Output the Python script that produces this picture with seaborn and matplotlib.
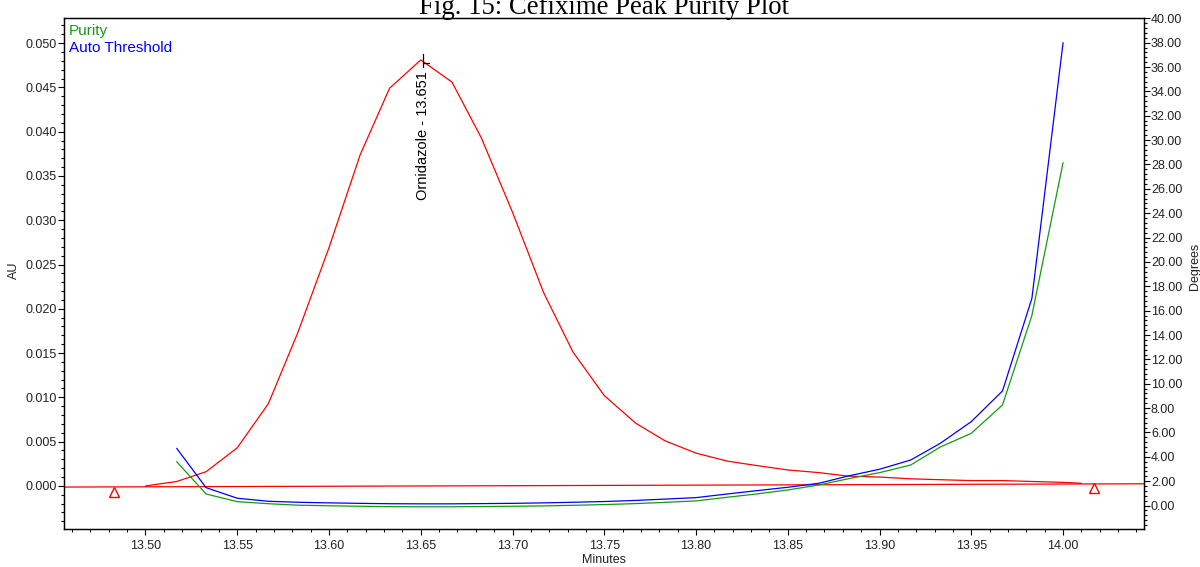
import matplotlib
matplotlib.use("Agg")
import matplotlib.pyplot as plt
from matplotlib.ticker import MultipleLocator, AutoMinorLocator, FormatStrFormatter
import seaborn as sns
import pandas as pd

# Chromatogram (AU) around the Ornidazole peak
red_time = [13.500, 13.517, 13.533, 13.550, 13.567, 13.583, 13.600, 13.617,
            13.633, 13.650, 13.667, 13.683, 13.700, 13.717, 13.733, 13.750,
            13.767, 13.783, 13.800, 13.817, 13.833, 13.850, 13.867, 13.883,
            13.900, 13.917, 13.933, 13.950, 13.967, 13.983, 14.000, 14.010]
red_au = [0.0000, 0.0005, 0.0016, 0.0043, 0.0093, 0.0173, 0.0269, 0.0374,
          0.0449, 0.0481, 0.0456, 0.0393, 0.0309, 0.0218, 0.0151, 0.0102,
          0.0071, 0.0051, 0.0037, 0.0028, 0.0023, 0.0018, 0.0015, 0.0011,
          0.0010, 0.0008, 0.0007, 0.0006, 0.0006, 0.0005, 0.0004, 0.0003]

# Baseline endpoints (AU)
base_time = [13.4556, 14.0441]
base_au = [-0.00013, 0.00024]

# Peak start / end markers
mark_time = [13.483, 14.017]
mark_au = [-0.0007, -0.00026]

# Purity and threshold angles (degrees)
ang_time = [13.517, 13.533, 13.550, 13.567, 13.583, 13.600, 13.617, 13.633,
            13.650, 13.667, 13.683, 13.700, 13.717, 13.733, 13.750, 13.767,
            13.783, 13.800, 13.817, 13.833, 13.850, 13.867, 13.883, 13.900,
            13.917, 13.933, 13.950, 13.967, 13.983, 14.000]
threshold_deg = [4.70, 1.47, 0.60, 0.35, 0.27, 0.22, 0.18, 0.15,
                 0.14, 0.14, 0.16, 0.18, 0.22, 0.27, 0.33, 0.42,
                 0.53, 0.65, 0.95, 1.22, 1.50, 1.83, 2.43, 2.98,
                 3.74, 5.10, 6.89, 9.41, 17.0, 38.0]
purity_deg = [3.60, 0.95, 0.32, 0.15, 0.03, -0.02, -0.06, -0.09,
              -0.10, -0.10, -0.08, -0.06, -0.03, 0.02, 0.08, 0.16,
              0.26, 0.38, 0.68, 0.95, 1.28, 1.69, 2.20, 2.70,
              3.33, 4.80, 5.93, 8.26, 15.6, 28.15]

peak_name = "Ornidazole"
peak_rt = 13.651
peak_top = 0.0481

RED = "#ff0000"
BLUE = "#0000ff"
GREEN = "#159a15"

sns.set_theme(style="ticks")
plt.rcParams["font.family"] = ["Liberation Sans", "DejaVu Sans"]

fig = plt.figure(figsize=(12, 5.67), dpi=100)
ax = fig.add_axes([64 / 1200, 1 - 529.3 / 567, 1080 / 1200, 511 / 567])
ax2 = ax.twinx()

chrom = pd.DataFrame({"t": red_time, "au": red_au})
base = pd.DataFrame({"t": base_time, "au": base_au})
ang = pd.DataFrame({"t": ang_time, "thr": threshold_deg, "pur": purity_deg})

sns.lineplot(data=base, x="t", y="au", ax=ax, color=RED, lw=0.9,
             estimator=None, sort=False)
sns.lineplot(data=chrom, x="t", y="au", ax=ax, color=RED, lw=0.9,
             estimator=None, sort=False)
ax.plot(mark_time, mark_au, ls="none", marker="^", ms=7.5, mfc="none",
        mec=RED, mew=1.0)

sns.lineplot(data=ang, x="t", y="pur", ax=ax2, color=GREEN, lw=0.9,
             estimator=None, sort=False)
sns.lineplot(data=ang, x="t", y="thr", ax=ax2, color=BLUE, lw=0.9,
             estimator=None, sort=False)

# Peak marker and label
ax.plot([peak_rt, peak_rt], [peak_top - 0.0008, peak_top + 0.0007],
        color="black", lw=0.9)
ax.plot([peak_rt, peak_rt + 0.0035], [peak_top - 0.0004, peak_top - 0.0004],
        color="black", lw=0.9)
ax.text(peak_rt, 0.0468, f"{peak_name} - {peak_rt:.3f}", rotation=90,
        ha="center", va="top", fontsize=10.5, color="black")

# Axis ranges and ticks
ax.set_xlim(13.4556, 14.0441)
ax.set_ylim(-0.0049, 0.0528)
ax2.set_ylim(-1.95, 40.0)

ax.xaxis.set_major_locator(MultipleLocator(0.05))
ax.xaxis.set_minor_locator(AutoMinorLocator(5))
ax.xaxis.set_major_formatter(FormatStrFormatter("%.2f"))
ax.yaxis.set_major_locator(MultipleLocator(0.005))
ax.yaxis.set_minor_locator(AutoMinorLocator(5))
ax.yaxis.set_major_formatter(FormatStrFormatter("%.3f"))
ax2.yaxis.set_major_locator(MultipleLocator(2))
ax2.yaxis.set_minor_locator(AutoMinorLocator(5))
ax2.yaxis.set_major_formatter(FormatStrFormatter("%.2f"))

for a in (ax, ax2):
    a.tick_params(which="major", length=4, width=0.8, color="black",
                  labelsize=9, labelcolor="#222222")
    a.tick_params(which="minor", length=2.2, width=0.8, color="black")
    for s in a.spines.values():
        s.set_color("black")
        s.set_linewidth(0.9)
ax.tick_params(axis="y", pad=1)
ax2.tick_params(axis="y", pad=1)
ax.tick_params(axis="x", pad=4)

ax.set_xlabel("Minutes", fontsize=9, labelpad=1, color="#222222")
ax.set_ylabel("")
ax2.set_ylabel("")
fig.text(14 / 1200, 1 - 270 / 567, "AU", rotation=90, ha="center",
         va="center", fontsize=9, color="#222222")
fig.text(1195 / 1200, 1 - 266 / 567, "Degrees", rotation=90, ha="center",
         va="center", fontsize=9, color="#222222")

# Series legend as coloured text
ax.text(69 / 1200, 1 - 30.5 / 567, "Purity", transform=fig.transFigure,
        ha="left", va="center", fontsize=11, color=GREEN)
ax.text(69 / 1200, 1 - 48.5 / 567, "Auto Threshold", transform=fig.transFigure,
        ha="left", va="center", fontsize=11, color=BLUE)

fig.text(604 / 1200, 1 - 14 / 567, "Fig. 15: Cefixime Peak Purity Plot",
         ha="center", va="baseline", fontsize=19.3,
         family=["Liberation Serif", "DejaVu Serif"], color="black")

fig.savefig("out.png", dpi=100, facecolor="white")
